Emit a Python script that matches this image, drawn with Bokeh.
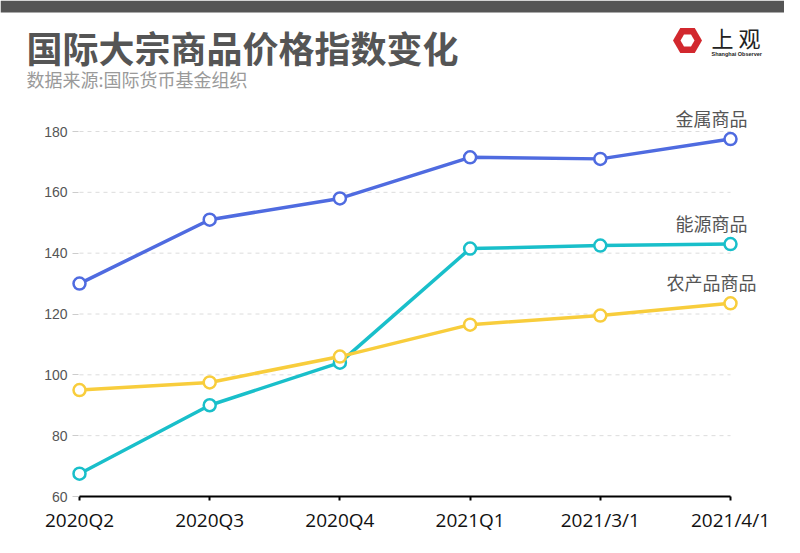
import numpy as np
from bokeh.plotting import figure
from bokeh.layouts import column
from bokeh.models import Range1d, FixedTicker, ColumnDataSource
from bokeh.core.properties import value
from bokeh.embed import file_html
from bokeh.resources import INLINE

# ---------------- data ----------------
categories = ["2020Q2", "2020Q3", "2020Q4", "2021Q1", "2021/3/1", "2021/4/1"]
metal = [130.0, 151.0, 158.0, 171.5, 171.0, 177.5]
energy = [67.5, 90.0, 104.0, 141.5, 142.5, 143.0]
agri = [95.0, 97.5, 106.0, 116.5, 119.5, 123.5]
series_names = ["金属商品", "能源商品", "农产品商品"]
y_ticks = [60, 80, 100, 120, 140, 160, 180]

title_text = "国际大宗商品价格指数变化"
subtitle_text = "数据来源:国际货币基金组织"

colors = ["#4f6be0", "#19bfca", "#f8cd3c"]

# ---------------- geometry (page px) ----------------
W, H = 784, 537
HEAD = 95                               # header strip height
yaxis_px = 72                           # where the y axis sits
x0_px, x5_px = 79, 730
px_per_x = (x5_px - x0_px) / (len(categories) - 1)
y60_px, y180_px = 496, 131
px_per_y = (y60_px - y180_px) / (180 - 60)

x_start = -x0_px / px_per_x
x_end = (len(categories) - 1) + (W - x5_px) / px_per_x
y_start = 60 - (H - y60_px) / px_per_y
y_end = 180 + (y180_px - HEAD) / px_per_y

# ---------------- header figure (pixel-space frame) ----------------
hd = figure(width=W, height=HEAD, output_backend="svg", toolbar_location=None,
            x_range=Range1d(0, W), y_range=Range1d(HEAD, 0),
            x_axis_location=None, y_axis_location=None,
            min_border_left=0, min_border_right=0, min_border_top=0, min_border_bottom=0)
hd.outline_line_color = None
hd.xgrid.visible = False
hd.ygrid.visible = False
hd.border_fill_color = "white"
hd.background_fill_color = "white"

hd.quad(left=[0], right=[W], top=[0], bottom=[12], fill_color="#555555", line_color=None)
hd.text(x=[26], y=[46], text=[title_text], text_font=value("Noto Sans CJK SC"),
        text_font_style="bold", text_font_size="36px", text_color="#555555",
        text_baseline="middle", text_align="left")
hd.text(x=[26], y=[78], text=[subtitle_text], text_font=value("Noto Sans CJK SC"),
        text_font_size="18px", text_color="#9a9a9a", text_baseline="middle", text_align="left")

ang = np.deg2rad(np.arange(0, 360, 60))
cx, cy = 687, 40
hd.patch(cx + 14.5 * np.cos(ang), cy + 14.5 * np.sin(ang), fill_color="#d2282e", line_color=None)
hd.patch(cx + 7 * np.cos(ang), cy + 7 * np.sin(ang), fill_color="white", line_color=None)
hd.text(x=[711], y=[36], text=["上 观"], text_font=value("Noto Sans CJK SC"),
        text_font_size="22px", text_color="#222222", text_baseline="middle")
hd.text(x=[711], y=[53], text=["Shanghai Observer"], text_font=value("Liberation Sans"),
        text_font_style="bold", text_font_size="5.5px", text_color="#222222", text_baseline="middle")

# ---------------- main chart ----------------
p = figure(width=W, height=H - HEAD, output_backend="svg", toolbar_location=None,
           x_range=Range1d(x_start, x_end), y_range=Range1d(y_start, y_end),
           min_border_left=0, min_border_right=0, min_border_top=0, min_border_bottom=0)
p.outline_line_color = None
p.background_fill_color = "white"
p.border_fill_color = "white"
p.xgrid.visible = False
p.ygrid.visible = False

xs = list(range(len(categories)))

grid_y = [t for t in y_ticks if t != y_ticks[0]]
p.segment(x0=[xs[0]] * len(grid_y), x1=[xs[-1]] * len(grid_y), y0=grid_y, y1=grid_y,
          line_color="#dcdcdc", line_width=1, line_dash="4 4")

xa = p.xaxis[0]
xa.fixed_location = y_ticks[0]
xa.ticker = FixedTicker(ticks=xs)
xa.major_label_overrides = {i: c for i, c in enumerate(categories)}
xa.bounds = (xs[0], xs[-1])
xa.axis_line_color = "black"
xa.axis_line_width = 2
xa.major_tick_line_color = "black"
xa.major_tick_line_width = 2
xa.major_tick_out = 4
xa.major_tick_in = 0
xa.minor_tick_line_color = None
xa.major_label_standoff = 6
xa.major_label_text_font = "Open Sans"
xa.major_label_text_font_size = "19px"
xa.major_label_text_color = "#111111"

ya = p.yaxis[0]
ya.fixed_location = (yaxis_px - x0_px) / px_per_x
ya.ticker = FixedTicker(ticks=y_ticks)
ya.axis_line_color = None
ya.major_tick_in = 6
ya.major_tick_out = 0
ya.major_tick_line_color = "#cccccc"
ya.major_tick_line_width = 1
ya.minor_tick_line_color = None
ya.major_label_standoff = 5
ya.major_label_text_font = "Liberation Sans"
ya.major_label_text_font_size = "14px"
ya.major_label_text_color = "#555555"

for vals, col in zip([metal, energy, agri], colors):
    p.line(xs, vals, line_color=col, line_width=3.5)
    p.scatter(xs, vals, size=12, fill_color="white", line_color=col, line_width=2.5)

lab_src = ColumnDataSource(dict(x=[xs[-1]] * 3, y=[metal[-1], energy[-1], agri[-1]], t=series_names))
p.text(x="x", y="y", text="t", source=lab_src, x_offset=-19, y_offset=-21,
       text_align="center", text_baseline="middle", text_font=value("Noto Sans CJK SC"),
       text_font_size="18px", text_color="#555555")

layout = column(hd, p, spacing=0)
open("out.html", "w").write(file_html(layout, INLINE))
